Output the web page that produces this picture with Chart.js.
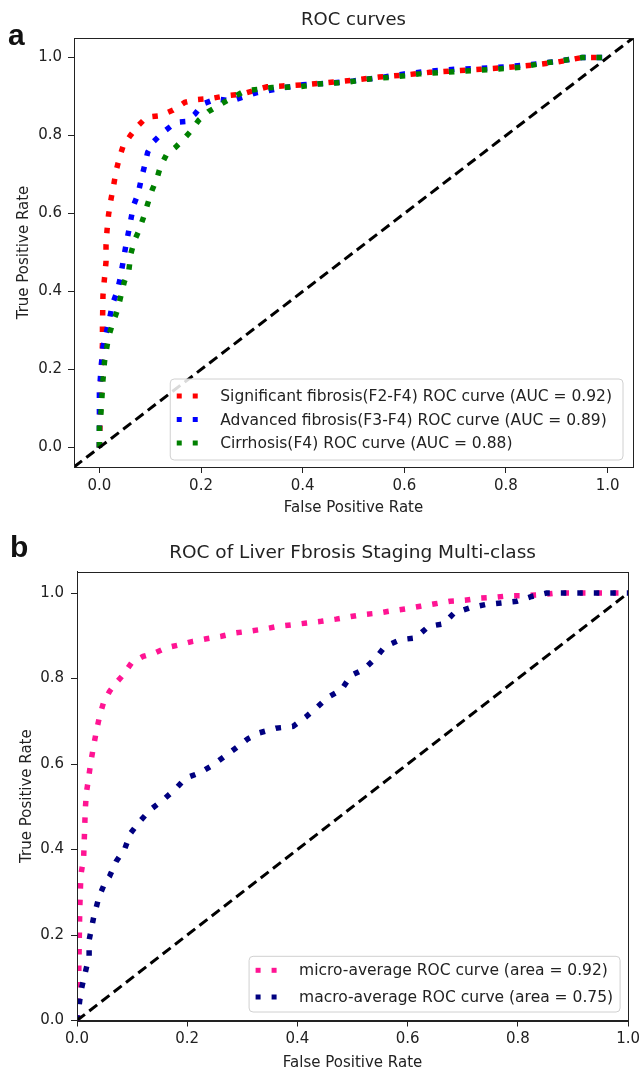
<!DOCTYPE html>
<html><head><meta charset="utf-8">
<script src="https://cdn.jsdelivr.net/npm/chart.js@4"></script>
<style>
html,body{margin:0;padding:0;background:#fff;}
#wa{position:absolute;left:0;top:0;width:644px;height:520px;}
#wb{position:absolute;left:0;top:520px;width:644px;height:553px;}
</style></head><body>
<div id="wa"><canvas id="ca"></canvas></div>
<div id="wb"><canvas id="cb"></canvas></div>
<script>
// ---- tick labels ----
const tickValues = [0, 0.2, 0.4, 0.6, 0.8, 1.0];

// ---- panel a: ROC curves ----
const sigLabel = 'Significant fibrosis(F2-F4) ROC curve (AUC = 0.92)';
const sigFpr = [0,0.002,0.004,0.006,0.006,0.007,0.010,0.013,0.013,0.015,0.018,0.023,0.028,0.033,0.040,0.047,0.061,0.076,0.093,0.120,0.145,0.168,0.192,0.220,0.250,0.280,0.306,0.330,0.360,0.400,0.450,0.500,0.550,0.600,0.650,0.700,0.750,0.800,0.850,0.900,0.950,1.0];
const sigTpr = [0,0.100,0.200,0.267,0.310,0.390,0.434,0.476,0.518,0.557,0.597,0.638,0.672,0.710,0.746,0.774,0.800,0.825,0.847,0.851,0.865,0.885,0.892,0.895,0.902,0.906,0.916,0.925,0.927,0.930,0.936,0.942,0.950,0.955,0.962,0.966,0.970,0.974,0.980,0.988,1.0,1.0];

const advLabel = 'Advanced fibrosis(F3-F4) ROC curve (AUC = 0.89)';
const advFpr = [0,0,0,0,0.003,0.007,0.020,0.026,0.035,0.041,0.046,0.051,0.056,0.061,0.067,0.076,0.082,0.089,0.095,0.107,0.125,0.151,0.171,0.188,0.204,0.230,0.260,0.310,0.360,0.400,0.450,0.500,0.550,0.600,0.650,0.700,0.750,0.800,0.850,0.900,0.950,1.0];
const advTpr = [0,0.054,0.096,0.140,0.200,0.258,0.331,0.369,0.400,0.434,0.472,0.510,0.544,0.578,0.620,0.650,0.686,0.723,0.757,0.785,0.808,0.834,0.836,0.855,0.881,0.894,0.889,0.910,0.922,0.930,0.934,0.940,0.948,0.958,0.965,0.970,0.972,0.976,0.982,0.990,1.0,1.0];

const cirLabel = 'Cirrhosis(F4) ROC curve (AUC = 0.88)';
const cirFpr = [0,0,0,0.003,0.005,0.007,0.010,0.018,0.026,0.035,0.041,0.049,0.058,0.062,0.069,0.078,0.087,0.095,0.104,0.113,0.120,0.132,0.150,0.166,0.181,0.196,0.214,0.240,0.263,0.287,0.316,0.340,0.395,0.430,0.484,0.530,0.580,0.630,0.680,0.730,0.780,0.830,0.870,0.900,0.950,1.0];
const cirTpr = [0,0.012,0.054,0.088,0.130,0.173,0.220,0.284,0.318,0.350,0.382,0.425,0.455,0.497,0.531,0.557,0.591,0.625,0.661,0.689,0.720,0.751,0.770,0.791,0.813,0.840,0.861,0.881,0.898,0.915,0.919,0.923,0.925,0.932,0.936,0.945,0.950,0.958,0.962,0.966,0.970,0.975,0.985,0.990,1.0,1.0];

const diagA = [-0.05, 1.05];

// ---- panel b: multi-class ROC ----
const microLabel = 'micro-average ROC curve (area = 0.92)';
const microFpr = [0,0.002,0.003,0.004,0.005,0.007,0.012,0.013,0.014,0.015,0.017,0.021,0.025,0.030,0.035,0.041,0.048,0.059,0.071,0.084,0.099,0.120,0.141,0.162,0.186,0.210,0.235,0.262,0.289,0.313,0.340,0.364,0.392,0.417,0.443,0.470,0.497,0.521,0.545,0.569,0.596,0.623,0.650,0.677,0.704,0.731,0.758,0.785,0.812,0.842,0.869,1.0];
const microTpr = [0,0.020,0.095,0.177,0.260,0.340,0.380,0.415,0.454,0.493,0.532,0.567,0.604,0.641,0.676,0.712,0.743,0.770,0.790,0.809,0.837,0.852,0.860,0.872,0.879,0.887,0.893,0.899,0.907,0.911,0.916,0.922,0.926,0.930,0.934,0.939,0.945,0.950,0.953,0.958,0.963,0.969,0.975,0.981,0.983,0.988,0.990,0.994,0.994,0.996,1.0,1.0];

const macroLabel = 'macro-average ROC curve (area = 0.75)';
const macroFpr = [0,0.003,0.007,0.014,0.022,0.022,0.030,0.040,0.050,0.059,0.071,0.087,0.097,0.114,0.133,0.157,0.179,0.197,0.222,0.247,0.268,0.289,0.310,0.331,0.361,0.392,0.415,0.434,0.455,0.480,0.497,0.521,0.542,0.559,0.587,0.614,0.638,0.665,0.684,0.712,0.741,0.770,0.798,0.825,0.852,1.0];
const macroTpr = [0,0.026,0.068,0.107,0.150,0.188,0.240,0.290,0.320,0.337,0.372,0.403,0.438,0.466,0.493,0.517,0.542,0.567,0.579,0.598,0.618,0.638,0.659,0.673,0.684,0.688,0.710,0.731,0.756,0.774,0.807,0.822,0.848,0.875,0.891,0.895,0.922,0.928,0.953,0.965,0.973,0.977,0.981,0.992,1.0,1.0];

const diagB = [0, 1];

// ---- helpers ----
const zip = (xs, ys) => xs.map((x, i) => ({x, y: ys[i]}));
const FONT = 'DejaVu Sans';
const TXT = '#222';

function curve(label, xs, ys, color, order) {
  return {label, data: zip(xs, ys), borderColor: color, backgroundColor: color,
    borderWidth: 5.5, borderDash: [5.5, 11], borderCapStyle: 'butt', borderJoinStyle: 'miter',
    pointRadius: 0, tension: 0, fill: false, showLine: true, order};
}
function diag(v) {
  return {label: '', data: zip(v, v), borderColor: '#000', borderWidth: 3, borderDash: [10, 5.5],
    borderCapStyle: 'butt', pointRadius: 0, tension: 0, fill: false, showLine: true, order: 0};
}
function scaleCfg(axis, min, max, title, fixedSize, titlePad, tickPad) {
  return {
    type: 'linear', min, max,
    afterBuildTicks: s => { s.ticks = tickValues.map(v => ({value: v})); },
    afterFit: s => { if (axis === 'x') s.height = fixedSize; else s.width = fixedSize; },
    grid: {display: true, drawOnChartArea: false, drawTicks: true, tickLength: 6, color: TXT, lineWidth: 1},
    border: {display: true, color: TXT, width: 1},
    ticks: {color: TXT, font: {family: FONT, size: 15}, padding: tickPad, autoSkip: false, maxRotation: 0,
      callback: v => Number(v).toFixed(1)},
    title: {display: true, text: title, color: TXT, font: {family: FONT, size: 15}, padding: titlePad}
  };
}

const framePlugin = {
  id: 'frame',
  afterDatasetsDraw(chart) {
    const {ctx, chartArea: a} = chart;
    ctx.save();
    ctx.strokeStyle = TXT; ctx.lineWidth = 1;
    ctx.strokeRect(Math.round(a.left) + 0.5, Math.round(a.top) + 0.5,
      Math.round(a.right) - Math.round(a.left), Math.round(a.bottom) - Math.round(a.top));
    ctx.restore();
  }
};
const legendPlugin = {
  id: 'roclegend',
  afterDraw(chart, args, o) {
    const ctx = chart.ctx, a = chart.chartArea;
    const items = chart.data.datasets.filter(d => d.label);
    ctx.save();
    ctx.font = o.fontSize + 'px "' + FONT + '"';
    const tw = Math.max(...items.map(d => ctx.measureText(d.label).width));
    const w = o.textX + tw + o.padR, h = o.padT + o.padB + o.rowH * (items.length - 1);
    const x = a.right - o.gapR - w, y = a.bottom - o.gapB - h;
    const r = 4;
    ctx.beginPath();
    ctx.moveTo(x + r, y); ctx.lineTo(x + w - r, y); ctx.arcTo(x + w, y, x + w, y + r, r);
    ctx.lineTo(x + w, y + h - r); ctx.arcTo(x + w, y + h, x + w - r, y + h, r);
    ctx.lineTo(x + r, y + h); ctx.arcTo(x, y + h, x, y + h - r, r);
    ctx.lineTo(x, y + r); ctx.arcTo(x, y, x + r, y, r); ctx.closePath();
    ctx.fillStyle = 'rgba(255,255,255,0.85)'; ctx.fill();
    ctx.strokeStyle = '#d0d0d0'; ctx.lineWidth = 1; ctx.stroke();
    items.forEach((d, i) => {
      const cy = y + o.padT + i * o.rowH;
      ctx.fillStyle = d.borderColor;
      ctx.fillRect(x + o.m1 - o.ms / 2, cy - o.ms / 2, o.ms, o.ms);
      ctx.fillRect(x + o.m2 - o.ms / 2, cy - o.ms / 2, o.ms, o.ms);
      ctx.fillStyle = TXT; ctx.textBaseline = 'middle'; ctx.textAlign = 'left';
      ctx.fillText(d.label, x + o.textX, cy + 1);
    });
    ctx.restore();
  }
};
const letterPlugin = {
  id: 'panelLetter',
  afterDraw(chart, args, o) {
    const ctx = chart.ctx;
    ctx.save();
    ctx.font = 'bold 30px "Liberation Sans"';
    ctx.fillStyle = '#111'; ctx.textBaseline = 'alphabetic'; ctx.textAlign = 'left';
    ctx.fillText(o.text, o.x, o.y);
    ctx.restore();
  }
};

function makeChart(id, datasets, cfg) {
  return new Chart(document.getElementById(id), {
    type: 'scatter',
    data: {datasets},
    plugins: [framePlugin, legendPlugin, letterPlugin],
    options: {
      responsive: true, maintainAspectRatio: false, animation: false, devicePixelRatio: 1,
      layout: {padding: {left: 0, right: cfg.padRight, top: 0, bottom: 0}},
      scales: {
        x: scaleCfg('x', cfg.xmin, cfg.xmax, 'False Positive Rate', cfg.xH, {top: 0, bottom: cfg.xTitlePad}, 4),
        y: scaleCfg('y', cfg.ymin, cfg.ymax, 'True Positive Rate', cfg.yW, {top: cfg.yTitlePad, bottom: 0}, cfg.yTickPad)
      },
      plugins: {
        legend: {display: false},
        tooltip: {enabled: false},
        title: {display: true, text: cfg.title, fullSize: false, color: TXT,
          font: {family: FONT, size: cfg.titleSize, weight: 'normal'}, padding: cfg.titlePad},
        roclegend: cfg.legend,
        panelLetter: cfg.letter
      }
    }
  });
}

makeChart('ca', [
  curve(sigLabel, sigFpr, sigTpr, '#ff0000', 4),
  curve(advLabel, advFpr, advTpr, '#0000ff', 3),
  curve(cirLabel, cirFpr, cirTpr, '#008000', 2),
  diag(diagA)
], {
  title: 'ROC curves', titleSize: 18, titlePad: {top: 10, bottom: 6.4},
  xmin: -0.05, xmax: 1.05, ymin: -0.05, ymax: 1.05,
  padRight: 11, xH: 53, yW: 74, xTitlePad: 3, yTitlePad: 15, yTickPad: 6,
  legend: {fontSize: 15.5, gapR: 10, gapB: 7, padT: 17, padB: 17, rowH: 23.5, m1: 9, m2: 25, ms: 5, textX: 50, padR: 11},
  letter: {text: 'a', x: 8, y: 45}
});

makeChart('cb', [
  curve(microLabel, microFpr, microTpr, '#ff1493', 3),
  curve(macroLabel, macroFpr, macroTpr, '#000080', 2),
  diag(diagB)
], {
  title: 'ROC of Liver Fbrosis Staging Multi-class', titleSize: 18.5, titlePad: {top: 22.5, bottom: 7},
  xmin: 0, xmax: 1, ymin: 0, ymax: 1.05,
  padRight: 14, xH: 52.5, yW: 77, xTitlePad: 1, yTitlePad: 18, yTickPad: 7,
  legend: {fontSize: 15.5, gapR: 8, gapB: 8.5, padT: 14, padB: 15, rowH: 26.7, m1: 9, m2: 25, ms: 5, textX: 50, padR: 7},
  letter: {text: 'b', x: 10, y: 37}
});
</script>
</body></html>
